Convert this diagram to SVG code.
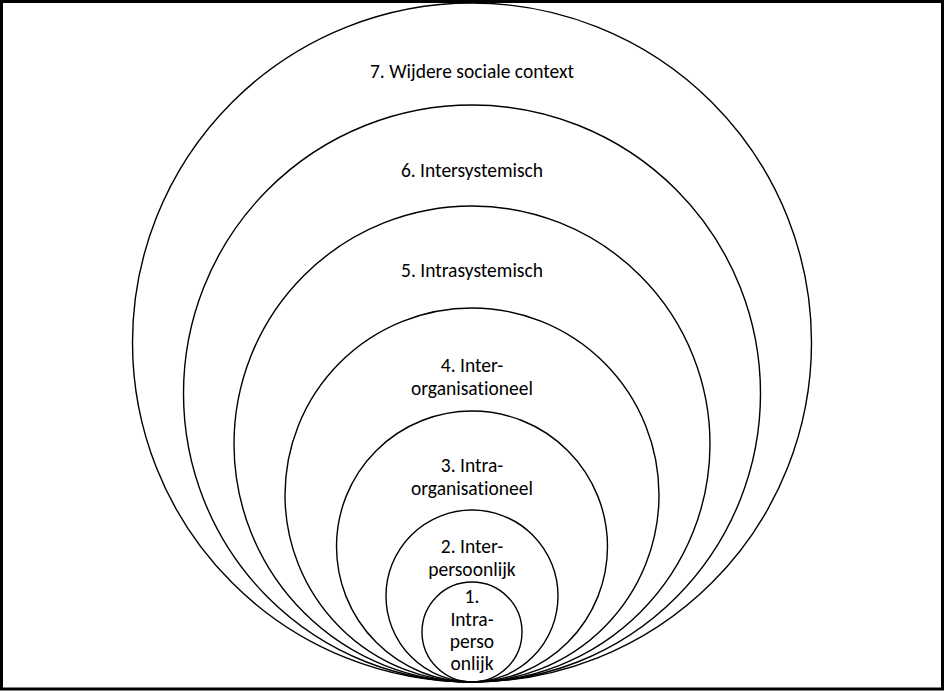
<svg xmlns="http://www.w3.org/2000/svg" width="944" height="691" viewBox="0 0 944 691">
<style>
.c{fill:none;stroke:#000;stroke-width:1.4}
.t{font-family:Carlito,Lato,"Liberation Sans",sans-serif;font-size:19.5px;fill:#000;text-anchor:middle;font-variant-ligatures:none}
</style>
<rect x="0" y="0" width="944" height="691" fill="#fff"/>
<rect x="1.5" y="1.5" width="941" height="687.5" fill="none" stroke="#000" stroke-width="3"/>
<g id="n7"><circle class="c" cx="472" cy="342.5" r="339.5"/><text class="t" x="472" y="78">7. Wijdere sociale context</text></g>
<g id="n6"><circle class="c" cx="472" cy="393.5" r="288.5"/><text class="t" x="472" y="177">6. Intersystemisch</text></g>
<g id="n5"><circle class="c" cx="472" cy="444" r="238"/><text class="t" x="472" y="277">5. Intrasystemisch</text></g>
<g id="n4"><circle class="c" cx="472" cy="495" r="187"/><text class="t" x="472" y="372">4. Inter-</text><text class="t" x="472" y="395">organisationeel</text></g>
<g id="n3"><circle class="c" cx="472" cy="546.5" r="135.5"/><text class="t" x="472" y="472">3. Intra-</text><text class="t" x="472" y="495">organisationeel</text></g>
<g id="n2"><circle class="c" cx="472" cy="596" r="86"/><text class="t" x="472" y="553">2. Inter-</text><text class="t" x="472" y="576">persoonlijk</text></g>
<g id="n1"><circle class="c" cx="472" cy="632" r="50"/><text class="t" x="472" y="603">1.</text><text class="t" x="472" y="626">Intra-</text><text class="t" x="472" y="648">perso</text><text class="t" x="472" y="670">onlijk</text></g>
<g id="connectors"/>
</svg>
